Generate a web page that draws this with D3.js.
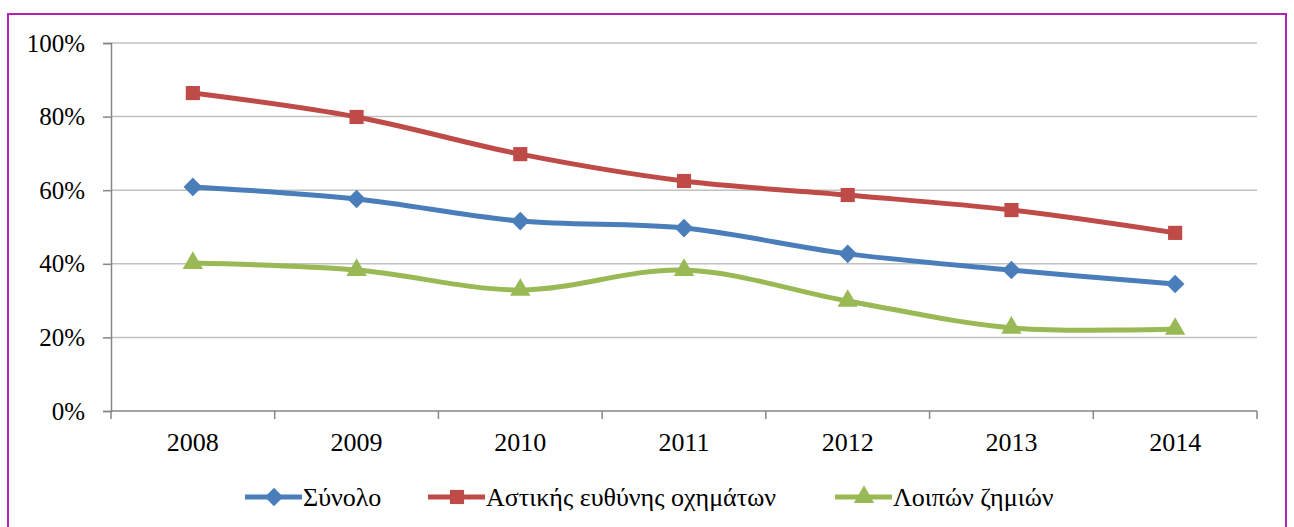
<!DOCTYPE html>
<html>
<head>
  <meta charset="UTF-8">
  <title>Chart</title>
  <script src="https://d3js.org/d3.v7.min.js"></script>
  <style>
    body { margin: 0; background: #fff; }
    #chart text { font-family: 'Liberation Serif', serif; font-size: 26px; fill: #000; }
  </style>
</head>
<body>
<div id="chart"></div>
<script>
  // data (percent)
  var years = ["2008", "2009", "2010", "2011", "2012", "2013", "2014"];
  var synolo = [60.9, 57.6, 51.6, 49.7, 42.7, 38.3, 34.5];
  var astikis = [86.4, 79.9, 69.8, 62.5, 58.7, 54.6, 48.4];
  var loipon = [40.2, 38.3, 32.9, 38.3, 29.9, 22.6, 22.3];
  var seriesNames = ["Σύνολο", "Αστικής ευθύνης οχημάτων", "Λοιπών ζημιών"];
  var yTicks = [0, 20, 40, 60, 80, 100];

  var series = [
    { name: seriesNames[0], values: synolo, color: "#4a7ebb", symbol: d3.symbolDiamond2, size: 220 },
    { name: seriesNames[1], values: astikis, color: "#be4b48", symbol: d3.symbolSquare, size: 200 },
    { name: seriesNames[2], values: loipon, color: "#98b954", symbol: d3.symbolTriangle, size: 180 }
  ];

  var W = 1294, H = 527;
  var margin = { top: 43, right: 37, bottom: 116, left: 111 },
    width = W - margin.left - margin.right,
    height = H - margin.top - margin.bottom;

  var svg = d3.select("#chart").append("svg")
    .attr("width", W)
    .attr("height", H);

  // purple frame
  svg.append("rect")
    .attr("x", 8).attr("y", 14)
    .attr("width", 1278).attr("height", 530)
    .attr("fill", "none")
    .attr("stroke", "#b222b4")
    .attr("stroke-width", 2);

  var g = svg.append("g")
    .attr("transform", "translate(" + margin.left + "," + margin.top + ")");

  var x = d3.scaleBand().domain(years).range([0, width]);
  var y = d3.scaleLinear().domain([0, 100]).range([height, 0]);

  // gridlines
  g.append("g").selectAll("line")
    .data(yTicks.slice(1))
    .enter().append("line")
    .attr("x1", 0).attr("x2", width)
    .attr("y1", function(d) { return y(d); })
    .attr("y2", function(d) { return y(d); })
    .attr("stroke", "#c0c0c0")
    .attr("stroke-width", 1.5);

  // Y axis
  var yAxis = g.append("g")
    .call(d3.axisLeft(y).tickValues(yTicks).tickSize(8).tickPadding(18)
      .tickFormat(function(d) { return d + "%"; }));
  yAxis.attr("font-family", null).attr("font-size", null);
  yAxis.select(".domain").attr("stroke", "#868686").attr("stroke-width", 1.5);
  yAxis.selectAll(".tick line").attr("stroke", "#868686").attr("stroke-width", 1.5);
  yAxis.selectAll("text").style("font-size", "25px");

  // X axis with ticks on category boundaries
  var xAxis = g.append("g").attr("transform", "translate(0," + height + ")");
  xAxis.append("line")
    .attr("x1", 0).attr("x2", width)
    .attr("stroke", "#868686").attr("stroke-width", 1.5);
  xAxis.selectAll(".xt")
    .data(years.concat(["end"]))
    .enter().append("line")
    .attr("class", "xt")
    .attr("x1", function(d, i) { return i * x.step(); })
    .attr("x2", function(d, i) { return i * x.step(); })
    .attr("y1", 0).attr("y2", 8)
    .attr("stroke", "#868686").attr("stroke-width", 1.5);
  xAxis.selectAll(".xl")
    .data(years)
    .enter().append("text")
    .attr("class", "xl")
    .attr("x", function(d) { return x(d) + x.bandwidth() / 2; })
    .attr("y", 40)
    .attr("text-anchor", "middle")
    .text(function(d) { return d; });

  // lines, smoothed like the original
  var line = d3.line()
    .x(function(d, i) { return x(years[i]) + x.bandwidth() / 2; })
    .y(function(d) { return y(d); })
    .curve(d3.curveCatmullRom.alpha(0.5));

  series.forEach(function(s) {
    g.append("path")
      .datum(s.values)
      .attr("fill", "none")
      .attr("stroke", s.color)
      .attr("stroke-width", 5)
      .attr("d", line);

    g.selectAll(null)
      .data(s.values)
      .enter().append("path")
      .attr("d", d3.symbol().type(s.symbol).size(s.size))
      .attr("fill", s.color)
      .attr("transform", function(d, i) {
        return "translate(" + (x(years[i]) + x.bandwidth() / 2) + "," + y(d) + ")";
      });
  });

  // legend
  var legendX = [245, 428, 835];
  var legend = svg.append("g").attr("transform", "translate(0,497)");
  series.forEach(function(s, i) {
    var lg = legend.append("g").attr("transform", "translate(" + legendX[i] + ",0)");
    lg.append("line")
      .attr("x1", 0).attr("x2", 57)
      .attr("stroke", s.color).attr("stroke-width", 5);
    lg.append("path")
      .attr("d", d3.symbol().type(s.symbol).size(s.size))
      .attr("transform", "translate(29,0)")
      .attr("fill", s.color);
    lg.append("text")
      .attr("x", 58)
      .attr("dy", "0.35em")
      .text(s.name);
  });
</script>
</body>
</html>
